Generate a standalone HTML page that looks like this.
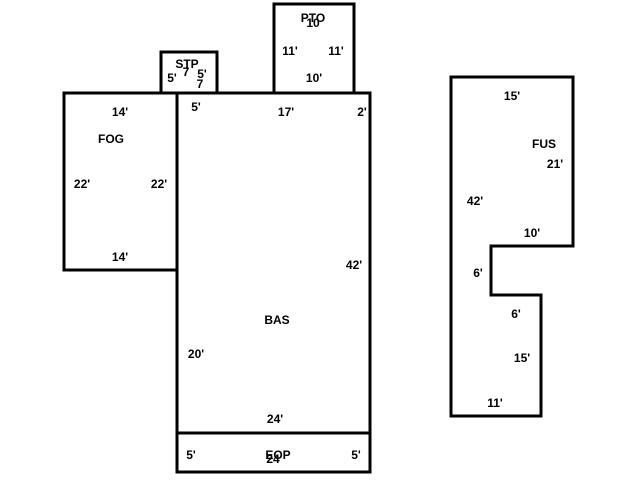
<!DOCTYPE html>
<html><head><style>body{margin:0;background:#fff}svg{display:block}text{font-family:"Liberation Sans",sans-serif;font-weight:bold;font-size:12px;fill:#000;text-anchor:middle}</style></head><body>
<svg width="640" height="480" xmlns="http://www.w3.org/2000/svg">
<g fill="none" stroke="#000" stroke-width="3">
<rect x="177" y="93" width="193" height="340"/>
<rect x="64" y="93" width="113" height="177"/>
<rect x="161" y="52" width="56" height="41"/>
<rect x="274" y="4" width="80" height="89"/>
<rect x="177" y="433" width="193" height="39"/>
<polygon points="451,77 573,77 573,246 491,246 491,295 541,295 541,416 451,416"/>
</g>
<text x="120" y="116">14'</text><text x="111" y="143">FOG</text><text x="82" y="188">22'</text><text x="159" y="188">22'</text><text x="120" y="261">14'</text>
<text x="187" y="68">STP</text><text x="172" y="82">5'</text><text x="186" y="76">7</text><text x="202" y="78">5'</text><text x="200" y="88">7</text>
<text x="313" y="22">PTO</text><text x="313" y="27">10</text><text x="290" y="55">11'</text><text x="336" y="55">11'</text><text x="314" y="82">10'</text>
<text x="196" y="111">5'</text><text x="286" y="116">17'</text><text x="362" y="116">2'</text>
<text x="354" y="269">42'</text><text x="277" y="324">BAS</text><text x="196" y="358">20'</text><text x="275" y="423">24'</text>
<text x="191" y="459">5'</text><text x="278" y="459">EOP</text><text x="273" y="463">24</text><text x="356" y="459">5'</text>
<text x="512" y="100">15'</text><text x="544" y="148">FUS</text><text x="555" y="168">21'</text><text x="475" y="205">42'</text><text x="532" y="237">10'</text><text x="478" y="277">6'</text><text x="516" y="318">6'</text><text x="522" y="362">15'</text><text x="495" y="407">11'</text>
</svg>
</body></html>
